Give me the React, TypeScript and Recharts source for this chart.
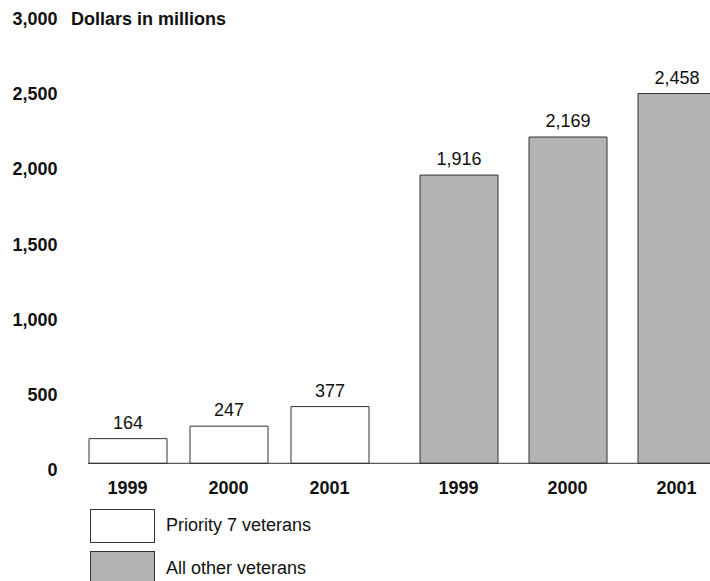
import { BarChart, Bar, XAxis, YAxis, LabelList, Legend } from 'recharts';

const years = ['1999', '2000', '2001'];
const priority7 = [164, 247, 377];
const allOther = [1916, 2169, 2458];
const yTicks = [0, 500, 1000, 1500, 2000, 2500, 3000];
const seriesNames = ['Priority 7 veterans', 'All other veterans'];

const data = years.map((year, i) => ({ year, priority7: priority7[i], allOther: allOther[i] }));

const FONT = '"Liberation Sans", Arial, Helvetica, sans-serif';
const fmt = (v: number) => Number(v).toLocaleString('en-US');

function LegendBoxes(props: any) {
    const items = [...(props.payload || [])].sort(
        (p: any, q: any) => seriesNames.indexOf(p.value) - seriesNames.indexOf(q.value)
    );
    return (
        <div style={{ fontFamily: FONT }}>
            {items.map((it: any) => (
                <div key={it.value} style={{ display: 'flex', alignItems: 'center', height: 33, marginBottom: 9.5 }}>
                    <div
                        style={{
                            width: 63,
                            height: 32,
                            border: '1px solid #333',
                            background: it.color,
                            marginRight: 11,
                        }}
                    />
                    <span style={{ fontSize: 18, color: '#111' }}>{it.value}</span>
                </div>
            ))}
        </div>
    );
}

export default function App() {
    return (
        <div style={{ position: 'relative', width: 710, height: 581, overflow: 'hidden', fontFamily: FONT }}>
            <style>{'body{margin:0;overflow:hidden}'}</style>
            <div
                style={{
                    position: 'absolute',
                    left: 71,
                    top: 9,
                    fontSize: 18,
                    fontWeight: 'bold',
                    color: '#111',
                    whiteSpace: 'nowrap',
                    zIndex: 2,
                }}
            >
                Dollars in millions
            </div>
            <BarChart
                width={731}
                height={581}
                data={data}
                margin={{ top: 12, right: 0, bottom: 115.7, left: 0 }}
            >
                <YAxis
                    width={88}
                    domain={[0, 3000]}
                    ticks={yTicks}
                    tickFormatter={fmt}
                    axisLine={false}
                    tickLine={false}
                    tickSize={0}
                    tickMargin={30.5}
                    tick={{ fill: '#111', fontSize: 18, fontWeight: 'bold', dy: 6.6 }}
                    interval={0}
                />
                <XAxis
                    xAxisId="a"
                    dataKey="year"
                    height={1}
                    padding={{ left: -11, right: 351 }}
                    axisLine={{ stroke: '#333', strokeWidth: 1 }}
                    tickLine={false}
                    tickSize={0}
                    tickMargin={18.2}
                    tick={{ fill: '#111', fontSize: 18, fontWeight: 'bold' }}
                    interval={0}
                />
                <XAxis
                    xAxisId="b"
                    dataKey="year"
                    height={1}
                    padding={{ left: 316, right: 0 }}
                    axisLine={false}
                    tickLine={false}
                    tickSize={0}
                    tickMargin={17.2}
                    tick={{ fill: '#111', fontSize: 18, fontWeight: 'bold' }}
                    interval={0}
                />
                <Legend
                    layout="horizontal"
                    verticalAlign="middle"
                    align="center"
                    wrapperStyle={{ left: 90, top: 509, width: 300 }}
                    content={LegendBoxes}
                />
                <Bar
                    xAxisId="a"
                    dataKey="priority7"
                    name={seriesNames[0]}
                    fill="#ffffff"
                    stroke="#333"
                    strokeWidth={1}
                    barSize={78}
                    isAnimationActive={false}
                >
                    <LabelList dataKey="priority7" position="top" offset={10} formatter={fmt} fill="#111" fontSize={18} />
                </Bar>
                <Bar
                    xAxisId="b"
                    dataKey="allOther"
                    name={seriesNames[1]}
                    fill="#b3b3b3"
                    stroke="#333"
                    strokeWidth={1}
                    barSize={78}
                    isAnimationActive={false}
                >
                    <LabelList dataKey="allOther" position="top" offset={10} formatter={fmt} fill="#111" fontSize={18} />
                </Bar>
            </BarChart>
        </div>
    );
}
